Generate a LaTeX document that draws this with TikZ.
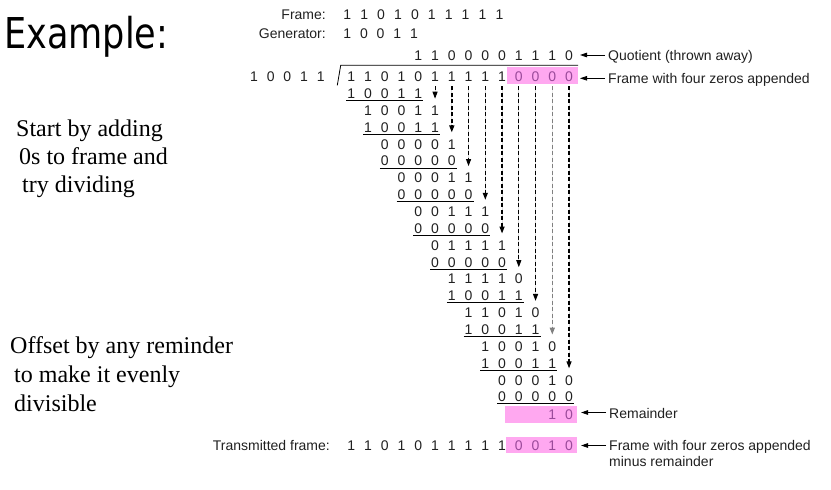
\documentclass[tikz,border=0pt]{standalone}
\usepackage{fontspec}
\usepackage{graphicx}
\setmainfont{Liberation Serif}
\newfontfamily\arialf{Liberation Sans}
\newfontfamily\exf{DejaVu Sans}
\usetikzlibrary{arrows.meta}
\definecolor{pinkbox}{HTML}{FFA8F0}
\definecolor{pinkdig}{HTML}{9A4A9A}
\definecolor{diggray}{HTML}{202020}
\begin{document}
\begin{tikzpicture}[x=1pt,y=-1pt,
  dig/.style={font=\arialf\fontsize{14}{16}\selectfont, inner sep=0pt, text height=10pt, text depth=0pt, anchor=center, text=diggray},
  pdig/.style={dig, text=pinkdig},
  lbl/.style={font=\arialf\fontsize{14}{16}\selectfont, inner sep=0pt, text=diggray},
  sertxt/.style={font=\fontsize{24}{28}\selectfont, inner sep=0pt, anchor=base west},
  ul/.style={line width=0.8pt},
  dn/.style={dash pattern=on 4pt off 2.5pt, line width=1.1pt, -{Triangle[length=7pt,width=5pt]}, shorten <=4.3pt, shorten >=6.5pt},
  la/.style={line width=0.8pt, -{Triangle[length=7pt,width=4.5pt]}, shorten <=3pt},
  pbox/.style={fill=pinkbox, draw=none},
]
\useasboundingbox (0,0) rectangle (831,490);

% title and side notes
\node[anchor=base west, inner sep=0pt, font=\exf\fontsize{42.5}{50}\selectfont] (title) at (4,48.3) {\resizebox{164pt}{\height}{Example:}};
\node[sertxt] (n1a) at (16,136) {Start by adding};
\node[sertxt] (n1b) at (19,164.5) {0s to frame and};
\node[sertxt] (n1c) at (22,192) {try dividing};
\node[sertxt] (n2a) at (10,353) {Offset by any reminder};
\node[sertxt] (n2b) at (14,382.5) {to make it evenly};
\node[sertxt] (n2c) at (14,411.5) {divisible};

% frame and generator
\node[lbl, anchor=base east] (flbl) at (326,19) {Frame:};
\node[lbl, anchor=base east] (glbl) at (326,38) {Generator:};
\foreach \v [count=\k from 0] in {1,1,0,1,0,1,1,1,1,1}
  \node[dig] (f-\k) at ({347.3+16.9*\k},14) {\v};
\foreach \v [count=\k from 0] in {1,0,0,1,1}
  \node[dig] (g-\k) at ({347.3+16.65*\k},33) {\v};

% pink boxes
\fill[pbox] (506.7,67) rectangle (577.7,84.3);
\fill[pbox] (505,406) rectangle (576.5,423);
\fill[pbox] (506,437.3) rectangle (576.7,453.3);

% quotient
\foreach \v [count=\k from 4] in {1,1,0,0,0,0,1,1,1,0}
  \node[dig] (q-\k) at ({351.3+16.75*\k},55) {\v};

% divisor
\foreach \v [count=\k from 0] in {1,0,0,1,1}
  \node[dig] (dv-\k) at ({254+16.68*\k},76.7) {\v};

% division bracket
\draw[line width=0.8pt] (337.3,85.3) -- (340.7,65.3) -- (578,65.3);

% dividend
\foreach \v [count=\k from 0] in {1,1,0,1,0,1,1,1,1,1}
  \node[dig] (r0-\k) at ({351.3+16.75*\k},76.7) {\v};
\foreach \v [count=\k from 10] in {0,0,0,0}
  \node[pdig] (r0-\k) at ({351.3+16.75*\k},76.7) {\v};

% subtraction rows
\foreach \r/\s/\a/\b/\c/\d/\e in {
  1/0/1/0/0/1/1, 2/1/1/0/0/1/1, 3/1/1/0/0/1/1, 4/2/0/0/0/0/1,
  5/2/0/0/0/0/0, 6/3/0/0/0/1/1, 7/3/0/0/0/0/0, 8/4/0/0/1/1/1,
  9/4/0/0/0/0/0, 10/5/0/1/1/1/1, 11/5/0/0/0/0/0, 12/6/1/1/1/1/0,
  13/6/1/0/0/1/1, 14/7/1/1/0/1/0, 15/7/1/0/0/1/1, 16/8/1/0/0/1/0,
  17/8/1/0/0/1/1, 18/9/0/0/0/1/0, 19/9/0/0/0/0/0}{
  \pgfmathsetmacro\yy{76.7+16.85*\r}
  \foreach \v [count=\k from 0] in {\a,\b,\c,\d,\e}{
    \pgfmathtruncatemacro\col{\s+\k}
    \node[dig] (r\r-\col) at ({351.3+16.75*\col},\yy) {\v};
  }
  \pgfmathtruncatemacro\odd{mod(\r,2)}
  \ifnum\odd=1
    \draw[ul] ({351.3+16.75*\s-5},{\yy+7}) -- ({351.3+16.75*(\s+4)+5},{\yy+7});
  \fi
}

% remainder
\node[pdig] (r20-12) at ({351.3+16.75*12},414.3) {1};
\node[pdig] (r20-13) at ({351.3+16.75*13},414.3) {0};

% bring-down arrows
\foreach \c/\b/\w/\col in {5/2/1.0/black, 6/4/1.4/black, 7/6/1.0/black, 8/8/1.3/black,
  9/10/1.5/black, 10/12/0.9/black, 11/14/1.2/black, 12/16/1.4/gray, 13/18/1.2/black}
  \draw[dn, line width=\w pt, draw=\col, fill=\col] (r0-\c.south) -- (r\b-\c.north);

% transmitted frame
\node[lbl, anchor=base east] (tlbl) at (330,450) {Transmitted frame:};
\foreach \v [count=\k from 0] in {1,1,0,1,0,1,1,1,1,1}
  \node[dig] (t-\k) at ({351.3+16.75*\k},445) {\v};
\foreach \v [count=\k from 10] in {0,0,1,0}
  \node[pdig] (t-\k) at ({351.3+16.75*\k},445) {\v};

% right labels with arrows
\node[lbl, anchor=base west] (qlbl) at (608,60) {Quotient (thrown away)};
\node[lbl, anchor=base west] (albl) at (608,83.3) {Frame with four zeros appended};
\node[lbl, anchor=base west] (rlbl) at (609,418.5) {Remainder};
\node[lbl, anchor=base west] (tlbl1) at (609,450.5) {Frame with four zeros appended};
\node[lbl, anchor=base west] (tlbl2) at (609,466.5) {minus remainder};
\coordinate (qtip) at (580,55);
\coordinate (atip) at (580,78.3);
\coordinate (rtip) at (581,412.5);
\coordinate (ttip) at (581,445.5);
\draw[la] (qlbl.west |- qtip) -- (qtip);
\draw[la] (albl.west |- atip) -- (atip);
\draw[la] (rlbl.west |- rtip) -- (rtip);
\draw[la] (tlbl1.west |- ttip) -- (ttip);
\end{tikzpicture}
\end{document}
